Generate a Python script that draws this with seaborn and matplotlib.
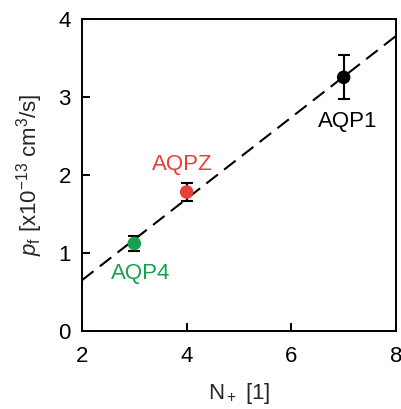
import pandas as pd
import matplotlib
matplotlib.use("Agg")
import matplotlib.pyplot as plt
import seaborn as sns

# data
proteins = ["AQP4", "AQPZ", "AQP1"]
n_plus = [3, 4, 7]
pf = [1.12, 1.78, 3.25]
pf_err = [0.09, 0.12, 0.28]
colors = ["#17a24f", "#ea3e39", "#000000"]
fit_x = [2, 8]
fit_y = [0.65, 3.78]

sns.set_theme(style="ticks")
plt.rcParams["font.family"] = ["Liberation Sans", "DejaVu Sans"]
plt.rcParams.update({
    "mathtext.fontset": "custom",
    "mathtext.rm": "Liberation Sans",
    "mathtext.it": "Liberation Sans:italic",
    "axes.linewidth": 1.4,
})

df = pd.DataFrame({"protein": proteins, "n": n_plus, "pf": pf, "err": pf_err})
fit = pd.DataFrame({"x": fit_x, "y": fit_y})

fig = plt.figure(figsize=(4.02, 4.09), dpi=100)
ax = fig.add_axes([0.204, 0.191, 0.781, 0.763])

sns.lineplot(data=fit, x="x", y="y", color="black", lw=1.5, ax=ax,
             dashes=False, linestyle=(0, (7, 3.8)))
ax.errorbar(df["n"], df["pf"], yerr=df["err"], fmt="none", ecolor="black",
            elinewidth=1.5, capsize=4.5, capthick=1.5, zorder=3)
sns.scatterplot(data=df, x="n", y="pf", hue="protein", palette=colors,
                s=95, edgecolor="none", legend=False, ax=ax, zorder=4)

label_pos = {"AQP4": (3.13, 0.73), "AQPZ": (3.91, 2.13), "AQP1": (7.08, 2.68)}
for name, c in zip(proteins, colors):
    lx, ly = label_pos[name]
    ax.text(lx, ly, name, color=c, fontsize=16, ha="center", va="center")

ax.set_xlim(2, 8)
ax.set_ylim(0, 4)
ax.set_xticks([2, 4, 6, 8])
ax.set_yticks([0, 1, 2, 3, 4])
ax.tick_params(direction="in", length=6, width=1.4, labelsize=16, colors="black")
ax.tick_params(axis="x", pad=11)
ax.tick_params(axis="y", pad=8)
ax.set_xlabel("N$_+$ [1]", fontsize=16, labelpad=10)
ax.set_ylabel("$p_\\mathrm{f}$ [x10$^{-13}$ cm$^3$/s]", fontsize=16, labelpad=10)
for s in ax.spines.values():
    s.set_color("black")

fig.savefig("out.png", dpi=100, facecolor="white")
